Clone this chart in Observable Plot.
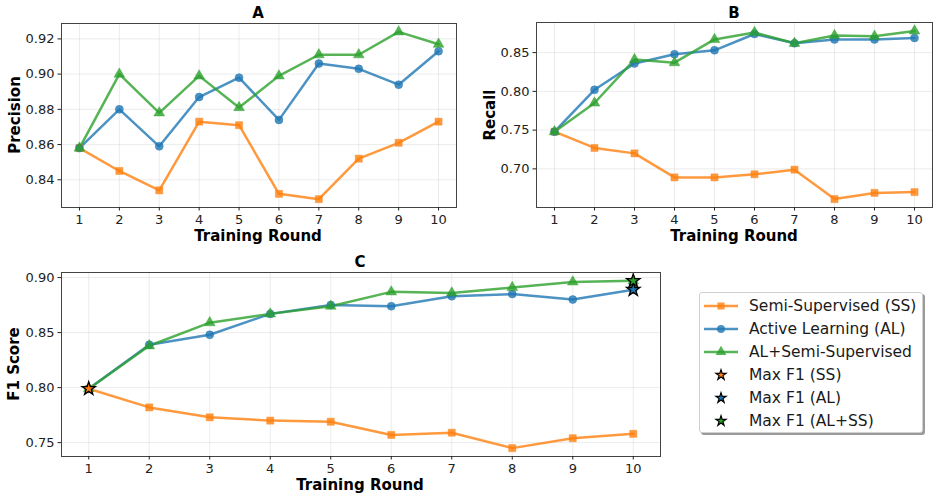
<!DOCTYPE html>
<html><head><meta charset="utf-8">
<script src="https://cdn.jsdelivr.net/npm/d3@7"></script>
<script src="https://cdn.jsdelivr.net/npm/@observablehq/plot@0.6"></script>
<style>
body{margin:0;background:#fff;font-family:"DejaVu Sans",sans-serif;}
#fig{position:relative;width:939px;height:500px;overflow:hidden;}
.panel{position:absolute;}
.lab{position:absolute;font-weight:bold;font-size:15px;color:#000;white-space:nowrap;transform:translate(-50%,-50%);}
.ylab{transform:translate(-50%,-50%) rotate(-90deg);}
#legend{position:absolute;left:699px;top:292px;width:224px;height:141px;border:1px solid #d0d0d0;border-radius:3px;background:#fff;box-shadow:2px 2px 0 #9a9a9a;box-sizing:border-box;}
.item{position:absolute;left:4px;height:22px;display:flex;align-items:center;font-size:15.5px;color:#1a1a1a;white-space:nowrap;}
.item svg{margin-right:11px;}
</style>
</head><body>
<div id="fig"></div>
<script>
const rounds = [1,2,3,4,5,6,7,8,9,10];
const seriesNames = ["Semi-Supervised (SS)", "Active Learning (AL)", "AL+Semi-Supervised"];
const seriesColors = ["#ff7f0e", "#1f77b4", "#2ca02c"];
const seriesSymbols = ["square", "circle", "triangle"];

const precisionSS   = [0.858,0.845,0.834,0.873,0.871,0.832,0.829,0.852,0.861,0.873];
const precisionAL   = [0.858,0.880,0.859,0.887,0.898,0.874,0.906,0.903,0.894,0.913];
const precisionALSS = [0.858,0.900,0.878,0.899,0.881,0.899,0.911,0.911,0.924,0.917];

const recallSS   = [0.748,0.727,0.720,0.689,0.689,0.693,0.699,0.661,0.669,0.670];
const recallAL   = [0.748,0.802,0.836,0.848,0.853,0.874,0.862,0.867,0.867,0.869];
const recallALSS = [0.748,0.785,0.841,0.837,0.867,0.876,0.862,0.872,0.871,0.878];

const f1SS   = [0.799,0.782,0.773,0.770,0.769,0.757,0.759,0.745,0.754,0.758];
const f1AL   = [0.799,0.839,0.848,0.867,0.875,0.874,0.883,0.885,0.880,0.889];
const f1ALSS = [0.799,0.838,0.859,0.867,0.874,0.887,0.886,0.891,0.896,0.897];

const precisionTicks = [0.84,0.86,0.88,0.90,0.92];
const recallTicks = [0.70,0.75,0.80,0.85];
const f1Ticks = [0.75,0.80,0.85,0.90];

const starNames = ["Max F1 (SS)", "Max F1 (AL)", "Max F1 (AL+SS)"];

function rowsOf(arrs){
  return arrs.flatMap((a,i)=>a.map((v,j)=>({round:rounds[j], value:v, series:seriesNames[i]})));
}
function maxRows(arrs){
  return arrs.map((a,i)=>{
    const j = d3.maxIndex(a);
    return {round:rounds[j], value:a[j], series:seriesNames[i], color:seriesColors[i]};
  });
}

function panel({arrs, ticks, width, height, mt, mr, mb, ml, stars}){
  const rows = rowsOf(arrs);
  const all = arrs.flat();
  const lo = d3.min(all), hi = d3.max(all), pad = (hi-lo)*0.05;
  const marks = [
    Plot.gridX(rounds, {stroke:"#b0b0b0", strokeOpacity:0.3, strokeWidth:0.8}),
    Plot.gridY(ticks, {stroke:"#b0b0b0", strokeOpacity:0.3, strokeWidth:0.8}),
    Plot.line(rows, {x:"round", y:"value", z:"series", stroke:"series", strokeWidth:2.5, strokeOpacity:0.8}),
    Plot.dot(rows, {x:"round", y:"value", fill:"series", symbol:"series", r:4, fillOpacity:0.8, stroke:"series", strokeOpacity:0.8, strokeWidth:0.5})
  ];
  if (stars) {
    marks.push(Plot.dot(maxRows(arrs), {x:"round", y:"value", symbol:"star", fill:"color", stroke:"black", strokeWidth:1.3, r:4.2}));
  }
  marks.push(
    Plot.frame({stroke:"#444", strokeWidth:1}),
    Plot.axisX(rounds, {tickSize:3.5, tickPadding:3.5, tickFormat:d=>String(d), label:null, fontSize:13}),
    Plot.axisY(ticks, {tickSize:3.5, tickPadding:3.5, tickFormat:".2f", label:null, fontSize:13})
  );
  return Plot.plot({
    width, height, marginTop:mt, marginRight:mr, marginBottom:mb, marginLeft:ml,
    style:{fontFamily:"DejaVu Sans", fontSize:"13px", color:"#222", background:"transparent"},
    x:{domain:[0.55,10.45]},
    y:{domain:[lo-pad, hi+pad]},
    color:{domain:seriesNames, range:seriesColors},
    symbol:{domain:seriesNames, range:seriesSymbols},
    marks
  });
}

const fig = document.getElementById("fig");
function place(el, left, top){ el.classList.add("panel"); el.style.left=left+"px"; el.style.top=top+"px"; fig.appendChild(el); }
function label(text, x, y, rot){
  const d = document.createElement("div");
  d.className = "lab" + (rot ? " ylab" : "");
  d.textContent = text; d.style.left = x+"px"; d.style.top = y+"px";
  fig.appendChild(d);
}

place(panel({arrs:[precisionSS,precisionAL,precisionALSS], ticks:precisionTicks, width:470, height:250, mt:23, mr:14, mb:43, ml:61}), 0, 0);
place(panel({arrs:[recallSS,recallAL,recallALSS], ticks:recallTicks, width:469, height:250, mt:22, mr:7, mb:43, ml:66}), 470, 0);
place(panel({arrs:[f1SS,f1AL,f1ALSS], ticks:f1Ticks, width:690, height:250, mt:22, mr:30, mb:44, ml:61, stars:true}), 0, 250);

label("A", 258, 13); label("B", 734, 13); label("C", 360, 262);
label("Training Round", 258, 236); label("Training Round", 734, 236); label("Training Round", 360, 485);
label("Precision", 15, 115, true); label("Recall", 490, 115, true); label("F1 Score", 14, 364, true);

// legend
const leg = document.createElement("div"); leg.id = "legend"; fig.appendChild(leg);
const legendItems = [
  ...seriesNames.map((n,i)=>({name:n, color:seriesColors[i], symbol:seriesSymbols[i], line:true})),
  ...starNames.map((n,i)=>({name:n, color:seriesColors[i], symbol:"star", line:false}))
];
const d3sym = {square:d3.symbolSquare, circle:d3.symbolCircle, triangle:d3.symbolTriangle, star:d3.symbolStar};
legendItems.forEach((it,k)=>{
  const row = document.createElement("div"); row.className = "item";
  row.style.top = (2 + k*23) + "px";
  const s = d3.create("svg").attr("width",34).attr("height",20);
  if (it.line) s.append("line").attr("x1",0).attr("x2",34).attr("y1",10).attr("y2",10).attr("stroke",it.color).attr("stroke-width",2.5).attr("stroke-opacity",0.8);
  const r = it.symbol==="star" ? 3.2 : 4;
  s.append("path").attr("transform","translate(17,10)").attr("d", d3.symbol(d3sym[it.symbol], Math.PI*r*r)())
    .attr("fill", it.color).attr("fill-opacity", it.line?0.8:1)
    .attr("stroke", it.line?"none":"black").attr("stroke-width", 1.2);
  row.appendChild(s.node());
  const t = document.createElement("span"); t.textContent = it.name; row.appendChild(t);
  leg.appendChild(row);
});
</script>
</body></html>
